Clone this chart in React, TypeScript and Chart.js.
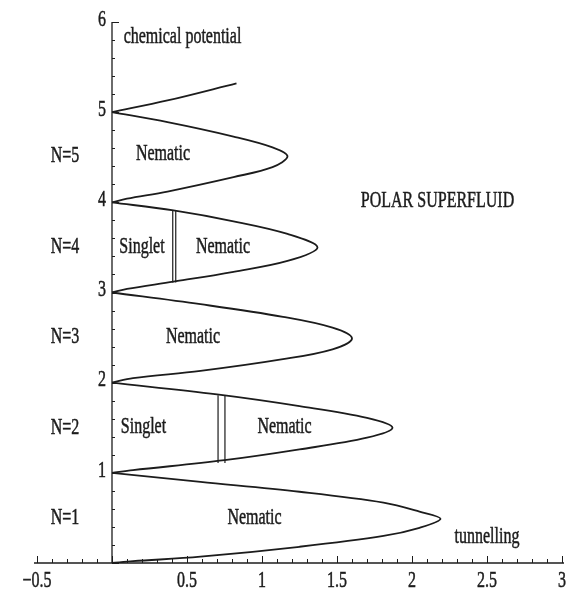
import React, { useEffect, useRef } from "react";
import { Chart, registerables } from "chart.js";

Chart.register(...registerables);

// Mott lobe boundaries (tunnelling on x, chemical potential on y)
const lobe1X = [0, 0.59, 1.25, 1.81, 2.05, 2.19, 2.05, 1.81, 1.25, 0.59, 0.14, 0];
const lobe1Y = [1.0, 0.9, 0.79, 0.67, 0.57, 0.49, 0.39, 0.3, 0.18, 0.07, 0.02, 0];
const lobe2X = [0, 0.7, 1.25, 1.7, 1.87, 1.7, 1.25, 0.75, 0.14, 0];
const lobe2Y = [2.0, 1.87, 1.74, 1.61, 1.5, 1.39, 1.26, 1.14, 1.03, 1.0];
const lobe3X = [0, 0.59, 1.14, 1.47, 1.6, 1.47, 1.14, 0.59, 0.14, 0];
const lobe3Y = [3.0, 2.87, 2.73, 2.61, 2.49, 2.37, 2.26, 2.13, 2.05, 2.0];
const lobe4X = [0, 0.41, 0.81, 1.17, 1.37, 1.17, 0.81, 0.41, 0.1, 0];
const lobe4Y = [4.0, 3.91, 3.79, 3.65, 3.5, 3.35, 3.23, 3.12, 3.04, 3.0];
const lobe5X = [0, 0.37, 0.81, 1.07, 1.17, 1.07, 0.81, 0.37, 0.1, 0];
const lobe5Y = [5.0, 4.89, 4.73, 4.61, 4.51, 4.39, 4.28, 4.12, 4.04, 4.0];
const lobe6X = [0, 0.37, 0.83];
const lobe6Y = [5.0, 5.13, 5.32];

// Singlet / nematic boundaries (double vertical lines)
const boundaryX = [0.707, 0.753, 0.405, 0.425];
const boundaryTop = [1.86, 1.86, 3.91, 3.91];
const boundaryBottom = [1.11, 1.11, 3.11, 3.11];

// Axes
const xMin = -0.5;
const xMax = 3;
const yMin = 0;
const yMax = 6;
const xTickValues = [-0.5, 0.5, 1, 1.5, 2, 2.5, 3];
const xTickLabels = ["\u22120.5", "0.5", "1", "1.5", "2", "2.5", "3"];
const yTickValues = [1, 2, 3, 4, 5, 6];
const yTickLabels = ["1", "2", "3", "4", "5", "6"];

// Text annotations (data coordinates)
const annoText = [
  "chemical potential",
  "POLAR SUPERFLUID",
  "tunnelling",
  "N=5", "N=4", "N=3", "N=2", "N=1",
  "Nematic", "Nematic", "Nematic", "Nematic", "Nematic",
  "Singlet", "Singlet",
];
const annoX = [0.47, 2.17, 2.5, -0.313, -0.313, -0.313, -0.313, -0.313, 0.34, 0.74, 0.54, 1.15, 0.95, 0.2, 0.21];
const annoY = [5.83, 4.01, 0.29, 4.51, 3.5, 2.5, 1.5, 0.5, 4.53, 3.5, 2.5, 1.51, 0.5, 3.5, 1.51];

const INK = "#1c1c1c";
const FONT = "16px 'Liberation Serif', 'DejaVu Serif', serif";
const STRETCH = 1.38;

function pts(xs: number[], ys: number[]) {
  return xs.map((v, i) => ({ x: v, y: ys[i] }));
}

function drawText(ctx: CanvasRenderingContext2D, t: string, px: number, py: number) {
  ctx.save();
  ctx.translate(px, py);
  ctx.scale(1, STRETCH);
  ctx.fillText(t, 0, 0);
  ctx.lineWidth = 0.35;
  ctx.strokeText(t, 0, 0);
  ctx.restore();
}

const axesPlugin = {
  id: "axesPlugin",
  afterDatasetsDraw(chart: any) {
    const { ctx } = chart;
    const sx = chart.scales.x;
    const sy = chart.scales.y;
    const x0 = sx.getPixelForValue(0);
    const y0 = sy.getPixelForValue(0);
    ctx.save();
    ctx.strokeStyle = INK;
    ctx.fillStyle = INK;
    ctx.lineWidth = 1.3;
    // x axis
    ctx.beginPath();
    ctx.moveTo(sx.getPixelForValue(xMin) - 3, y0);
    ctx.lineTo(sx.getPixelForValue(xMax) + 2, y0);
    ctx.stroke();
    ctx.beginPath();
    for (let i = 0; i <= 35; i++) {
      const v = xMin + i * 0.1;
      const px = Math.round(sx.getPixelForValue(v)) + 0.5;
      const major = i % 5 === 0;
      ctx.moveTo(px, y0);
      ctx.lineTo(px, y0 - (major ? 7 : 4));
    }
    ctx.lineWidth = 1;
    ctx.stroke();
    // y axis
    ctx.lineWidth = 1.3;
    ctx.beginPath();
    ctx.moveTo(x0, sy.getPixelForValue(yMin));
    ctx.lineTo(x0, sy.getPixelForValue(yMax));
    ctx.stroke();
    ctx.beginPath();
    for (let i = 0; i <= 30; i++) {
      const v = yMin + i * 0.2;
      const py = Math.round(sy.getPixelForValue(v)) + 0.5;
      const major = i % 5 === 0;
      ctx.moveTo(x0, py);
      ctx.lineTo(x0 + (major ? 7 : 3), py);
    }
    ctx.lineWidth = 1;
    ctx.stroke();
    // tick labels
    ctx.font = FONT;
    ctx.textAlign = "center";
    ctx.textBaseline = "middle";
    xTickValues.forEach((v, i) => {
      drawText(ctx, xTickLabels[i], sx.getPixelForValue(v), y0 + 18);
    });
    ctx.textAlign = "right";
    yTickValues.forEach((v, i) => {
      drawText(ctx, yTickLabels[i], x0 - 6, sy.getPixelForValue(v) - 2);
    });
    // annotations
    ctx.textAlign = "center";
    annoText.forEach((t, i) => {
      drawText(ctx, t, sx.getPixelForValue(annoX[i]), sy.getPixelForValue(annoY[i]));
    });
    ctx.restore();
  },
};

export default function App() {
  const canvasRef = useRef<HTMLCanvasElement | null>(null);

  useEffect(() => {
    const canvas = canvasRef.current;
    if (!canvas) return;
    const lobeStyle = {
      showLine: true,
      pointRadius: 0,
      borderColor: INK,
      borderWidth: 1.8,
      tension: 0.35,
      fill: false,
    };
    const lobes = [
      pts(lobe1X, lobe1Y),
      pts(lobe2X, lobe2Y),
      pts(lobe3X, lobe3Y),
      pts(lobe4X, lobe4Y),
      pts(lobe5X, lobe5Y),
      pts(lobe6X, lobe6Y),
    ].map((d) => ({ ...lobeStyle, data: d }));
    const bounds = boundaryX.map((bx, i) => ({
      showLine: true,
      pointRadius: 0,
      borderColor: INK,
      borderWidth: 1.2,
      tension: 0,
      fill: false,
      data: [
        { x: bx, y: boundaryTop[i] },
        { x: bx, y: boundaryBottom[i] },
      ],
    }));
    const chart = new Chart(canvas, {
      type: "scatter",
      data: { datasets: [...lobes, ...bounds] as any },
      options: {
        animation: false,
        responsive: false,
        devicePixelRatio: 1,
        layout: { padding: { left: 37, right: 8, top: 22, bottom: 31 } },
        scales: {
          x: { type: "linear", min: xMin, max: xMax, display: false },
          y: { type: "linear", min: yMin, max: yMax, display: false },
        },
        plugins: { legend: { display: false }, tooltip: { enabled: false } },
      },
      plugins: [axesPlugin],
    });
    return () => chart.destroy();
  }, []);

  return (
    <div style={{ position: "absolute", left: 0, top: 0, width: 570, height: 594, background: "#fff" }}>
      <canvas ref={canvasRef} width={570} height={594} />
    </div>
  );
}
